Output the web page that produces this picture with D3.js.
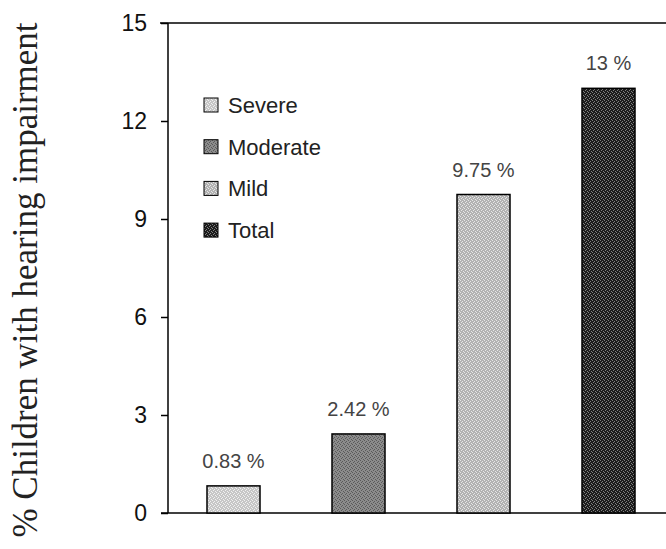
<!DOCTYPE html>
<html>
<head>
<meta charset="utf-8">
<script src="https://cdn.jsdelivr.net/npm/d3@7"></script>
<style>
  html, body { margin: 0; padding: 0; background: #fff; }
  svg { display: block; }
</style>
</head>
<body>
<svg id="chart" width="666" height="549"></svg>
<script>
// ---- data ----
const categories = ["Severe", "Moderate", "Mild", "Total"];
const values = [0.83, 2.42, 9.75, 13];
const valueLabels = ["0.83 %", "2.42 %", "9.75 %", "13 %"];
const yTicks = [0, 3, 6, 9, 12, 15];
const yTitle = "% Children with hearing impairment";

// ---- styling ----
const baseColors = ["#c6c6c6", "#8c8c8c", "#b2b2b2", "#1c1c1c"];
const dotColors  = ["#f0f0f0", "#5a5a5a", "#e6e6e6", "#808080"];

const svg = d3.select("#chart");
const axisX = 168, plotTop = 23, plotBottom = 513;

const y = d3.scaleLinear().domain([0, 15]).range([plotBottom, plotTop]);
const x = d3.scaleBand().domain(categories).range([axisX, 674])
  .paddingInner(0.576).paddingOuter(0.312);

// textured patterns
const defs = svg.append("defs");
categories.forEach((c, i) => {
  const p = defs.append("pattern").attr("id", "pat" + i)
    .attr("patternUnits", "userSpaceOnUse").attr("width", 4).attr("height", 4);
  p.append("rect").attr("width", 4).attr("height", 4).attr("fill", baseColors[i]);
  [[0,0],[2,1],[1,2],[3,3]].forEach(([a,b]) =>
    p.append("rect").attr("x", a).attr("y", b).attr("width", 1).attr("height", 1)
     .attr("fill", dotColors[i]));
});

// y axis
const yAxis = d3.axisLeft(y).tickValues(yTicks).tickSize(7).tickPadding(14);
const gy = svg.append("g").attr("transform", `translate(${axisX},0)`).call(yAxis);
gy.select(".domain").attr("stroke", "#000").attr("stroke-width", 1.5).attr("d", `M0,${plotTop}V${plotBottom}`);
gy.selectAll(".tick line").attr("stroke", "#000").attr("stroke-width", 1.5);
gy.selectAll(".tick text")
  .attr("font-family", "'Liberation Sans', Arial, sans-serif")
  .attr("font-size", 23).attr("fill", "#111");

// top frame line and baseline
svg.append("line").attr("x1", 160).attr("x2", 666).attr("y1", plotTop).attr("y2", plotTop)
  .attr("stroke", "#000").attr("stroke-width", 1.5);
svg.append("line").attr("x1", 161).attr("x2", 666).attr("y1", plotBottom).attr("y2", plotBottom)
  .attr("stroke", "#000").attr("stroke-width", 1.5);

// bars
svg.selectAll("rect.bar").data(values).join("rect").attr("class", "bar")
  .attr("x", (d, i) => x(categories[i]))
  .attr("y", d => y(d))
  .attr("width", x.bandwidth())
  .attr("height", d => y(0) - y(d))
  .attr("fill", (d, i) => `url(#pat${i})`)
  .attr("stroke", "#000").attr("stroke-width", 1.5);

// value labels
svg.selectAll("text.vl").data(values).join("text").attr("class", "vl")
  .attr("x", (d, i) => x(categories[i]) + x.bandwidth() / 2)
  .attr("y", d => y(d) - 18)
  .attr("text-anchor", "middle")
  .attr("font-family", "'Liberation Sans', Arial, sans-serif")
  .attr("font-size", 20).attr("fill", "#444")
  .text((d, i) => valueLabels[i]);

// legend
const lg = svg.append("g");
categories.forEach((c, i) => {
  const yy = 113 + i * 41.7;
  lg.append("rect").attr("x", 204).attr("y", yy - 15).attr("width", 14).attr("height", 14)
    .attr("fill", `url(#pat${i})`).attr("stroke", "#000").attr("stroke-width", 1);
  lg.append("text").attr("x", 228).attr("y", yy)
    .attr("font-family", "'Liberation Sans', Arial, sans-serif")
    .attr("font-size", 22).attr("fill", "#222").text(c);
});

// y title
svg.append("text")
  .attr("transform", "translate(37,280) rotate(-90)")
  .attr("text-anchor", "middle")
  .attr("font-family", "'Liberation Serif', 'Times New Roman', serif")
  .attr("font-size", 35).attr("fill", "#222")
  .text(yTitle);
</script>
</body>
</html>
